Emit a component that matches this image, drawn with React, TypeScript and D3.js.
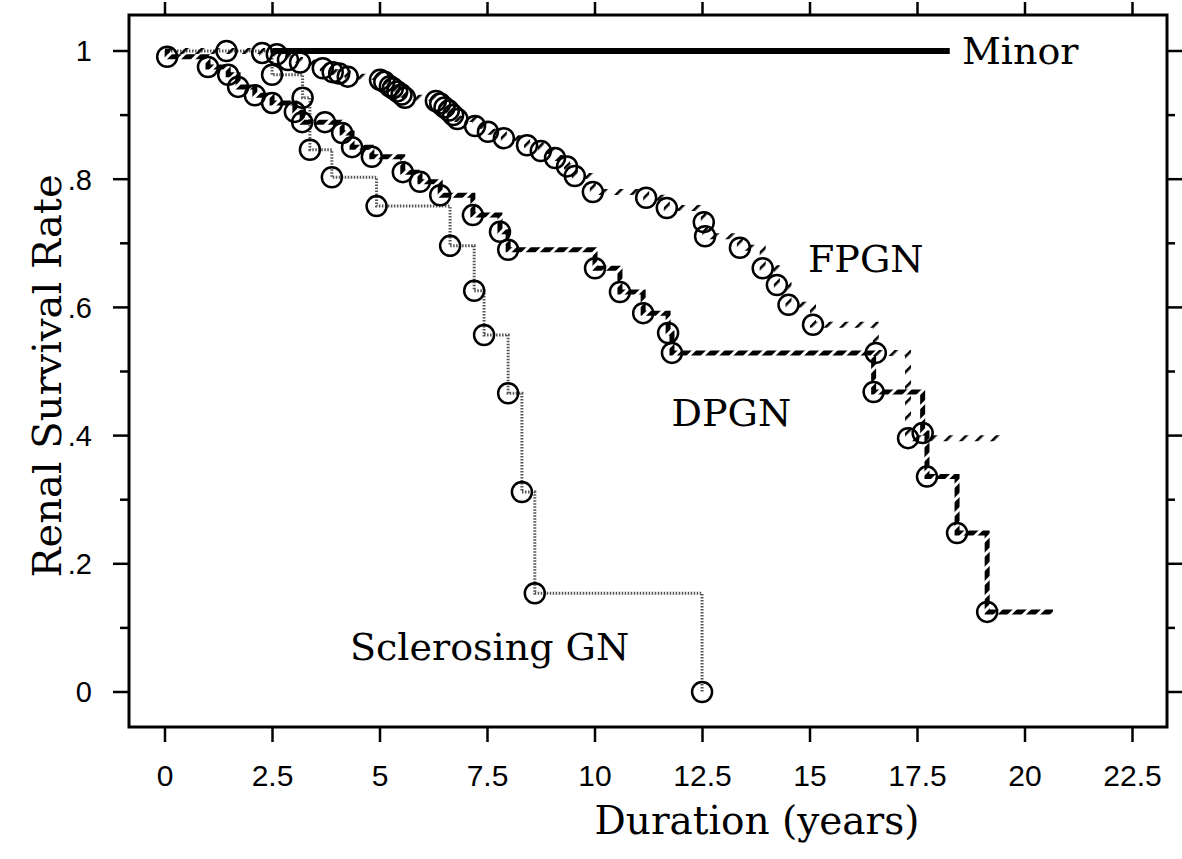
import React from "react";
import * as d3 from "d3";

// ---- data (time in years, survival rate) ----
const xTicks = [0, 2.5, 5, 7.5, 10, 12.5, 15, 17.5, 20, 22.5];
const xTickLabels = ["0", "2.5", "5", "7.5", "10", "12.5", "15", "17.5", "20", "22.5"];
const yTicks = [0, 0.2, 0.4, 0.6, 0.8, 1];
const yTickLabels = ["0", ".2", ".4", ".6", ".8", "1"];
const yMinorTicks = [0.1, 0.3, 0.5, 0.7, 0.9];

const minorRange = [2.5, 18.25];
const minorLevel = 1;

const fpgnT = [2.26, 2.6, 2.86, 3.14, 3.67, 3.9, 4.05, 4.25, 5.0, 5.1, 5.23, 5.3, 5.4, 5.5, 5.58, 6.3, 6.4, 6.5, 6.6, 6.7, 6.8, 7.21, 7.51, 7.88, 8.42, 8.74, 9.07, 9.35, 9.53, 9.95, 11.19, 11.67, 12.53, 12.56, 13.37, 13.9, 14.23, 14.5, 15.07, 16.53, 17.28];
const fpgnS = [0.997, 0.995, 0.986, 0.982, 0.973, 0.967, 0.965, 0.96, 0.955, 0.952, 0.945, 0.942, 0.937, 0.932, 0.927, 0.922, 0.918, 0.912, 0.907, 0.9, 0.894, 0.883, 0.874, 0.864, 0.853, 0.844, 0.833, 0.82, 0.805, 0.78, 0.771, 0.755, 0.733, 0.711, 0.693, 0.661, 0.635, 0.604, 0.573, 0.529, 0.396];
const fpgnEnd = 19.5;

const dpgnT = [0.05, 1.0, 1.47, 1.7, 2.09, 2.49, 3.02, 3.19, 3.72, 4.12, 4.35, 4.81, 5.53, 5.93, 6.4, 7.16, 7.79, 7.98, 10.0, 10.58, 11.12, 11.7, 11.79, 16.48, 17.62, 17.72, 18.42, 19.12];
const dpgnS = [0.991, 0.975, 0.963, 0.944, 0.931, 0.919, 0.905, 0.889, 0.889, 0.872, 0.85, 0.835, 0.811, 0.796, 0.775, 0.744, 0.718, 0.69, 0.661, 0.624, 0.591, 0.56, 0.529, 0.468, 0.404, 0.336, 0.248, 0.125];
const dpgnEnd = 20.65;

const sclT = [1.43, 2.49, 3.2, 3.37, 3.88, 4.92, 6.63, 7.19, 7.42, 7.98, 8.3, 8.6, 12.49];
const sclS = [1.0, 0.963, 0.927, 0.846, 0.803, 0.758, 0.696, 0.626, 0.557, 0.466, 0.312, 0.154, 0];
const sclEnd = 12.49;

const labels = [
  { text: "Minor", t: 18.3, s: 1.0 },
  { text: "FPGN", t: 15.0, s: 0.675 },
  { text: "DPGN", t: 11.85, s: 0.435 },
  { text: "Sclerosing GN", t: 4.35, s: 0.07 },
];

// ---- layout ----
const W = 1182;
const H = 859;
const frame = { left: 129, top: 15, right: 1167, bottom: 727 };
const x = d3.scaleLinear().domain([0, 22.5]).range([165, 1132.5]);
const y = d3.scaleLinear().domain([0, 1]).range([692, 51]);

function stepPath(ts: number[], ss: number[], end: number) {
  const pts: [number, number][] = [[0, 1]];
  ts.forEach((t, i) => pts.push([t, ss[i]]));
  pts.push([end, ss[ss.length - 1]]);
  return d3
    .line<[number, number]>()
    .x((d) => x(d[0]))
    .y((d) => y(d[1]))
    .curve(d3.curveStepAfter)(pts) as string;
}

const serif = "'DejaVu Serif', serif";
const sans = "'Liberation Sans', Arial, sans-serif";

export default function App() {
  const labelOffsets: Record<string, [number, number]> = {
    Minor: [10, 13],
    FPGN: [-2, 13],
    DPGN: [-3, 13],
    "Sclerosing GN": [-2, 13],
  };
  return (
    <div style={{ position: "absolute", left: 0, top: 0, width: W, height: H, background: "#fff" }}>
      <svg width={W} height={H} viewBox={`0 0 ${W} ${H}`}>
        <defs>
          <pattern id="hatchF" width={11} height={11} patternUnits="userSpaceOnUse" patternTransform="rotate(45)">
            <rect x={0} y={0} width={2.6} height={11} fill="#000" />
          </pattern>
          <pattern id="hatchD" width={10} height={10} patternUnits="userSpaceOnUse" patternTransform="rotate(45)">
            <rect x={0} y={0} width={7} height={10} fill="#000" />
          </pattern>
        </defs>
        <rect x={0} y={0} width={W} height={H} fill="#fff" />
        {/* frame */}
        <rect
          x={frame.left}
          y={frame.top}
          width={frame.right - frame.left}
          height={frame.bottom - frame.top}
          fill="none"
          stroke="#000"
          strokeWidth={3}
        />
        {/* x ticks top & bottom */}
        {xTicks.map((t, i) => (
          <g key={"xt" + i}>
            <line x1={x(t)} x2={x(t)} y1={frame.top} y2={frame.top - 13} stroke="#000" strokeWidth={2.5} />
            <line x1={x(t)} x2={x(t)} y1={frame.bottom} y2={frame.bottom + 15} stroke="#000" strokeWidth={2.5} />
            <text x={x(t)} y={786} fontFamily={sans} fontSize={30} textAnchor="middle" fill="#000">
              {xTickLabels[i]}
            </text>
          </g>
        ))}
        {/* y ticks left & right */}
        {yTicks.map((v, i) => (
          <g key={"yt" + i}>
            <line x1={frame.left} x2={frame.left - 16} y1={y(v)} y2={y(v)} stroke="#000" strokeWidth={2.5} />
            <line x1={frame.right} x2={frame.right + 15} y1={y(v)} y2={y(v)} stroke="#000" strokeWidth={2.5} />
            <text x={92} y={y(v)} dy="0.36em" fontFamily={sans} fontSize={29} textAnchor="end" fill="#000">
              {yTickLabels[i]}
            </text>
          </g>
        ))}
        {yMinorTicks.map((v, i) => (
          <g key={"ym" + i}>
            <line x1={frame.left} x2={frame.left - 9} y1={y(v)} y2={y(v)} stroke="#000" strokeWidth={2.5} />
            <line x1={frame.right} x2={frame.right + 8} y1={y(v)} y2={y(v)} stroke="#000" strokeWidth={2.5} />
          </g>
        ))}

        {/* Minor */}
        <line
          x1={x(minorRange[0])}
          x2={x(minorRange[1])}
          y1={y(minorLevel)}
          y2={y(minorLevel)}
          stroke="#000"
          strokeWidth={6}
        />

        {/* Sclerosing GN */}
        <path d={stepPath(sclT, sclS, sclEnd)} fill="none" stroke="#555" strokeWidth={3} strokeDasharray="1.5 1.5" />
        {/* FPGN */}
        <path d={stepPath(fpgnT, fpgnS, fpgnEnd)} fill="none" stroke="url(#hatchF)" strokeWidth={6} />
        {/* DPGN */}
        <path d={stepPath(dpgnT, dpgnS, dpgnEnd)} fill="none" stroke="url(#hatchD)" strokeWidth={5} />

        {/* circles */}
        {sclT.map((t, i) => (
          <circle key={"sc" + i} cx={x(t)} cy={y(sclS[i])} r={10} fill="none" stroke="#000" strokeWidth={2.5} />
        ))}
        {fpgnT.map((t, i) => (
          <circle key={"fc" + i} cx={x(t)} cy={y(fpgnS[i])} r={10} fill="none" stroke="#000" strokeWidth={2.5} />
        ))}
        {dpgnT.map((t, i) => (
          <circle key={"dc" + i} cx={x(t)} cy={y(dpgnS[i])} r={10} fill="none" stroke="#000" strokeWidth={2.5} />
        ))}

        {/* series labels */}
        {labels.map((l) => {
          const o = labelOffsets[l.text];
          return (
            <text
              key={l.text}
              x={x(l.t) + o[0]}
              y={y(l.s) + o[1]}
              fontFamily={serif}
              fontSize={38}
              textAnchor="start"
              fill="#000"
            >
              {l.text}
            </text>
          );
        })}

        {/* axis titles */}
        <text x={757} y={834} fontFamily={serif} fontSize={39} textAnchor="middle" fill="#000">
          Duration (years)
        </text>
        <text
          transform={`translate(61, 376) rotate(-90)`}
          fontFamily={serif}
          fontSize={40}
          textAnchor="middle"
          fill="#000"
        >
          Renal Survival Rate
        </text>
      </svg>
    </div>
  );
}
